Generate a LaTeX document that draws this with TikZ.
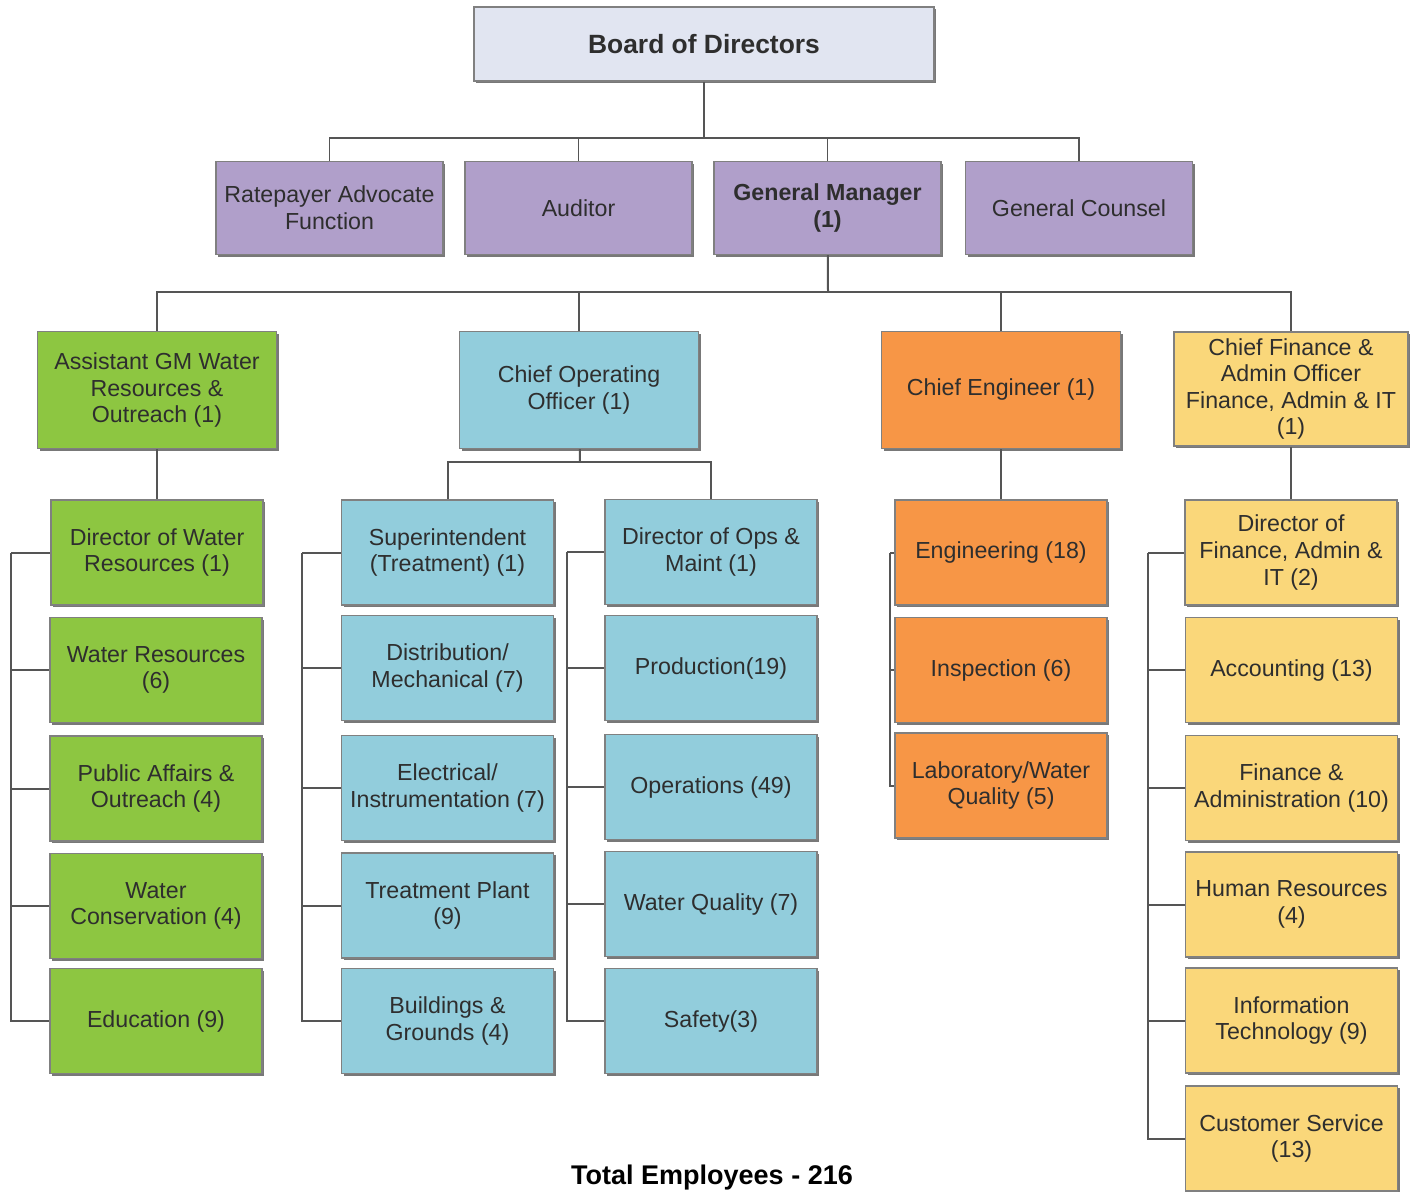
\documentclass[tikz,border=0pt]{standalone}
\usepackage{fontspec}
\setmainfont{Liberation Sans}
\usetikzlibrary{shadows}
\usetikzlibrary{calc}

\definecolor{boardfill}{HTML}{E1E5F1}
\definecolor{purplefill}{HTML}{B09FCA}
\definecolor{greenfill}{HTML}{8DC641}
\definecolor{bluefill}{HTML}{92CDDC}
\definecolor{orangefill}{HTML}{F79646}
\definecolor{yellowfill}{HTML}{FAD77A}
\definecolor{textgray}{HTML}{2E2E2E}
\definecolor{linkgray}{HTML}{555555}

\tikzset{
  unit/.style={draw=gray, line width=0.6pt, align=center, inner sep=2pt,
    text=textgray, font=\fontsize{11.6}{13.3}\selectfont,
    drop shadow={shadow xshift=1.2pt, shadow yshift=-1.2pt, fill=black!75, opacity=0.7}},
  topunit/.style={unit, fill=purplefill, minimum width=113.5pt, minimum height=46.5pt},
  headunit/.style={unit, minimum width=119.5pt, minimum height=58.5pt},
  subunit/.style={unit, minimum width=106pt, minimum height=52.5pt},
  link/.style={draw=linkgray, line width=1pt},
}

\begin{document}
\begin{tikzpicture}[x=0.5pt, y=-0.5pt]
  \useasboundingbox[fill=white] (0,0) rectangle (1417,1192);

  % board and staff
  \node[unit, fill=boardfill, minimum width=230pt, minimum height=37pt,
    font=\bfseries\fontsize{13.2}{16}\selectfont] (board) at (704,44) {Board of Directors};

  \node[topunit] (rate) at (329.5,208) {Ratepayer Advocate\\Function};
  \node[topunit] (aud) at (578.5,208) {Auditor};
  \node[topunit, font=\bfseries\fontsize{11.6}{13.3}\selectfont] (gm) at (827.5,208) {General Manager\\(1)};
  \node[topunit] (counsel) at (1079,208) {General Counsel};

  % departments
  \node[headunit, fill=greenfill] (agm) at (157,390) {Assistant GM Water\\Resources \&\\Outreach (1)};
  \node[headunit, fill=bluefill] (coo) at (579,390) {Chief Operating\\Officer (1)};
  \node[headunit, fill=orangefill] (ceng) at (1001,390) {Chief Engineer (1)};
  \node[headunit, fill=yellowfill, minimum width=117pt, minimum height=57pt] (cfo) at (1291,389)
    {Chief Finance \&\\Admin Officer\\Finance, Admin \& IT\\(1)};

  % water resources
  \node[subunit, fill=greenfill] (wdir) at (157,552.5) {Director of Water\\Resources (1)};
  \node[subunit, fill=greenfill] (wres) at (156,670) {Water Resources\\(6)};
  \node[subunit, fill=greenfill] (paff) at (156,788.5) {Public Affairs \&\\Outreach (4)};
  \node[subunit, fill=greenfill] (wcons) at (156,906) {Water\\Conservation (4)};
  \node[subunit, fill=greenfill] (edu) at (156,1021) {Education (9)};

  % operations, treatment
  \node[subunit, fill=bluefill] (supt) at (447.5,552.5) {Superintendent\\(Treatment) (1)};
  \node[subunit, fill=bluefill] (dist) at (447.5,668) {Distribution/\\Mechanical (7)};
  \node[subunit, fill=bluefill] (elec) at (447.5,788) {Electrical/\\Instrumentation (7)};
  \node[subunit, fill=bluefill] (tplant) at (447.5,905.5) {Treatment Plant\\(9)};
  \node[subunit, fill=bluefill] (bldg) at (447.5,1021) {Buildings \&\\Grounds (4)};

  % operations, maintenance
  \node[subunit, fill=bluefill] (dops) at (711,552) {Director of Ops \&\\Maint (1)};
  \node[subunit, fill=bluefill] (prod) at (711,668) {Production(19)};
  \node[subunit, fill=bluefill] (oper) at (711,787) {Operations (49)};
  \node[subunit, fill=bluefill] (wqual) at (711,904) {Water Quality (7)};
  \node[subunit, fill=bluefill] (safety) at (711,1021) {Safety(3)};

  % engineering
  \node[subunit, fill=orangefill] (eng) at (1001,552.5) {Engineering (18)};
  \node[subunit, fill=orangefill] (insp) at (1001,670) {Inspection (6)};
  \node[subunit, fill=orangefill] (lab) at (1001,785.5) {Laboratory/Water\\Quality (5)};

  % finance
  \node[subunit, fill=yellowfill] (dfin) at (1291,552.5) {Director of\\Finance, Admin \&\\IT (2)};
  \node[subunit, fill=yellowfill] (acct) at (1291.5,670) {Accounting (13)};
  \node[subunit, fill=yellowfill] (fadm) at (1291.5,788) {Finance \&\\Administration (10)};
  \node[subunit, fill=yellowfill] (hr) at (1291.5,904.5) {Human Resources\\(4)};
  \node[subunit, fill=yellowfill] (itech) at (1291.5,1020.5) {Information\\Technology (9)};
  \node[subunit, fill=yellowfill] (cserv) at (1291.5,1138.5) {Customer Service\\(13)};

  \node[anchor=base, text=black, font=\bfseries\fontsize{13.5}{16}\selectfont] (total) at (712,1184)
    {Total Employees - 216};

  % connectors
  \coordinate (bus1) at (704,138);
  \coordinate (bus2) at (828,292);
  \coordinate (bus3) at (580,462);
  \draw[link, line width=0.8pt] (board) -- (bus1);
  \foreach \n in {rate,aud,gm,counsel}
    \draw[link, line width=0.8pt] (bus1) -| (\n);
  \draw[link] (gm) -- (bus2);
  \foreach \n in {agm,coo,ceng,cfo}
    \draw[link] (bus2) -| (\n);
  \draw[link] (coo) -- (bus3);
  \draw[link] (bus3) -| (supt);
  \draw[link] (bus3) -| (dops);
  \draw[link] (agm) -- (wdir);
  \draw[link] (ceng) -- (eng);
  \draw[link] (cfo) -- (dfin);

  \coordinate (gspine) at (11,552.5);
  \coordinate (tspine) at (302,552.5);
  \coordinate (mspine) at (567,552);
  \coordinate (espine) at (890,552.5);
  \coordinate (fspine) at (1148,552.5);
  \foreach \n in {wdir,wres,paff,wcons,edu}
    \draw[link] (gspine) |- (\n.west);
  \foreach \n in {supt,dist,elec,tplant,bldg}
    \draw[link] (tspine) |- (\n.west);
  \foreach \n in {dops,prod,oper,wqual,safety}
    \draw[link] (mspine) |- (\n.west);
  \foreach \n in {eng,insp,lab}
    \draw[link] (espine) |- (\n.west);
  \foreach \n in {dfin,acct,fadm,hr,itech,cserv}
    \draw[link] (fspine) |- (\n.west);
\end{tikzpicture}
\end{document}
